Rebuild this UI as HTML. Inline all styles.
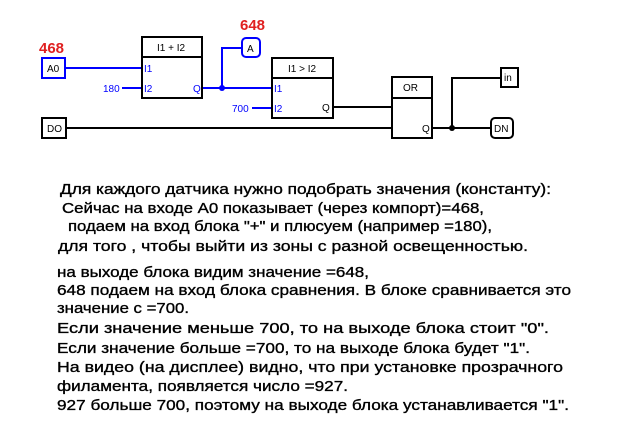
<!DOCTYPE html>
<html><head><meta charset="utf-8"><style>
html,body{margin:0;padding:0;background:#fff;}
svg{display:block;}
.t{font-family:"Liberation Sans",Arial,sans-serif;font-size:15px;fill:#000;stroke:#000;stroke-width:0.35;}
.s{font-family:"Liberation Sans",Arial,sans-serif;font-size:10px;}
.r{font-family:"Liberation Sans",Arial,sans-serif;font-size:15px;font-weight:bold;fill:#e02020;}
</style></head><body>
<svg width="638" height="433" viewBox="0 0 638 433" xmlns="http://www.w3.org/2000/svg">
<rect width="638" height="433" fill="#fff"/>
<g stroke="#0000ff" stroke-width="2" fill="none">
<line x1="65" y1="68" x2="142" y2="68"/>
<line x1="122" y1="88" x2="142" y2="88"/>
<line x1="202" y1="88" x2="272" y2="88"/>
<polyline points="222,88 222,48 242,48"/>
<line x1="252" y1="108" x2="272" y2="108"/>
<rect x="42" y="58" width="23" height="20"/>
<rect x="242" y="38" width="18" height="19" rx="4"/>
</g>
<circle cx="222" cy="88" r="3" fill="#0000ff"/>
<g stroke="#000" stroke-width="2" fill="none">
<line x1="66" y1="128" x2="392" y2="128"/>
<line x1="333" y1="107" x2="392" y2="107"/>
<line x1="432" y1="128" x2="491" y2="128"/>
<polyline points="452,128 452,78 501,78"/>
<rect x="142" y="37" width="60" height="61"/>
<line x1="142" y1="57" x2="202" y2="57"/>
<rect x="272" y="58" width="61" height="60"/>
<line x1="272" y1="78" x2="333" y2="78"/>
<rect x="392" y="77" width="40" height="61"/>
<line x1="392" y1="98" x2="432" y2="98"/>
<rect x="42" y="118" width="24" height="20"/>
<rect x="501" y="68" width="17" height="19"/>
<rect x="491" y="118" width="22" height="20" rx="4"/>
</g>
<circle cx="452" cy="128" r="3" fill="#000"/>
<text class="r" x="39" y="53">468</text>
<text class="r" x="240" y="30">648</text>
<g class="s" fill="#000">
<text x="47" y="72">A0</text>
<text x="247" y="52">A</text>
<text x="157" y="51">I1 + I2</text>
<text x="288" y="72">I1 &gt; I2</text>
<text x="403" y="91">OR</text>
<text x="47" y="132">DO</text>
<text x="504" y="81">in</text>
<text x="494" y="132">DN</text>
<text x="322" y="111">Q</text>
<text x="422" y="132">Q</text>
</g>
<g class="s" fill="#0000ff">
<text x="144" y="72">I1</text>
<text x="144" y="92">I2</text>
<text x="193" y="92">Q</text>
<text x="103" y="92">180</text>
<text x="274" y="92">I1</text>
<text x="274" y="112">I2</text>
<text x="232" y="112">700</text>
</g>
<text class="t" x="60" y="194" textLength="491" lengthAdjust="spacingAndGlyphs">Для каждого датчика нужно подобрать значения (константу):</text>
<text class="t" x="62" y="213" textLength="422" lengthAdjust="spacingAndGlyphs">Сейчас на входе А0 показывает (через компорт)=468,</text>
<text class="t" x="68" y="231" textLength="424" lengthAdjust="spacingAndGlyphs">подаем на вход блока "+" и плюсуем (например =180),</text>
<text class="t" x="58" y="251" textLength="470" lengthAdjust="spacingAndGlyphs">для того , чтобы выйти из зоны с разной освещенностью.</text>
<text class="t" x="57" y="277" textLength="312" lengthAdjust="spacingAndGlyphs">на выходе блока видим значение =648,</text>
<text class="t" x="57" y="295" textLength="514" lengthAdjust="spacingAndGlyphs">648 подаем на вход блока сравнения. В блоке сравнивается это</text>
<text class="t" x="57" y="313" textLength="132" lengthAdjust="spacingAndGlyphs">значение с =700.</text>
<text class="t" x="57" y="333" textLength="492" lengthAdjust="spacingAndGlyphs">Если значение меньше 700, то на выходе блока стоит "0".</text>
<text class="t" x="57" y="353" textLength="473" lengthAdjust="spacingAndGlyphs">Если значение больше =700, то на выходе блока будет "1".</text>
<text class="t" x="57" y="372" textLength="506" lengthAdjust="spacingAndGlyphs">На видео (на дисплее) видно, что при установке прозрачного</text>
<text class="t" x="57" y="391" textLength="291" lengthAdjust="spacingAndGlyphs">филамента, появляется число =927.</text>
<text class="t" x="57" y="410" textLength="512" lengthAdjust="spacingAndGlyphs">927 больше 700, поэтому на выходе блока устанавливается "1".</text>
</svg>
</body></html>
